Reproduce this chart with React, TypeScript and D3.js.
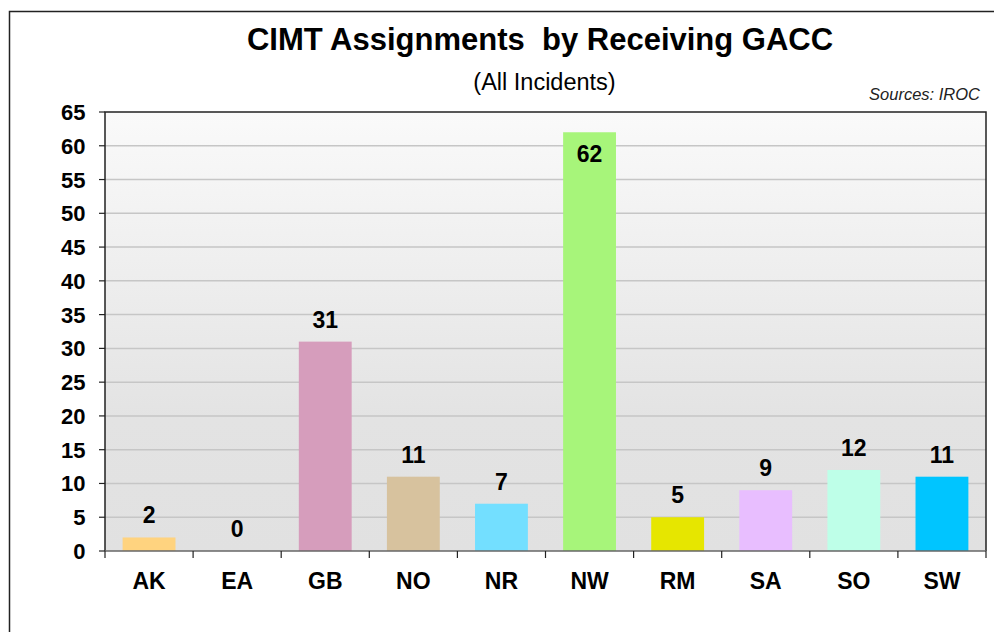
import React from 'react';
import * as d3 from 'd3';

// GACC codes and assignment counts
const gaccs = ['AK', 'EA', 'GB', 'NO', 'NR', 'NW', 'RM', 'SA', 'SO', 'SW'];
const assignments = [2, 0, 31, 11, 7, 62, 5, 9, 12, 11];
const barColors = ['#FFD37F', '#D69DBC', '#D69DBC', '#D7C29E', '#73DFFF', '#A7F57A', '#E6E600', '#E8BEFF', '#BEFFE8', '#00C5FF'];
const yTicks = [0, 5, 10, 15, 20, 25, 30, 35, 40, 45, 50, 55, 60, 65];

const title = 'CIMT Assignments\u00A0 by Receiving GACC';
const subtitle = '(All Incidents)';
const source = 'Sources: IROC';

const W = 994, H = 632;
const plot = { left: 105, right: 986, top: 112, bottom: 551 };
const font = '"Liberation Sans", Arial, sans-serif';

export default function App() {
  const x = d3.scaleBand<string>()
    .domain(gaccs)
    .range([plot.left, plot.right])
    .paddingInner(0.4)
    .paddingOuter(0.2);
  const y = d3.scaleLinear()
    .domain([0, 65])
    .range([plot.bottom, plot.top]);

  const step = x.step();
  const boundaries = d3.range(gaccs.length + 1).map(i => plot.left + i * step);

  return (
    <svg width={W} height={H} style={{ position: 'absolute', left: 0, top: 0 }}>
      <defs>
        <linearGradient id="bg" x1="0" y1="0" x2="0" y2="1">
          <stop offset="0" stopColor="#fafafa" />
          <stop offset="0.7" stopColor="#e3e3e3" />
          <stop offset="1" stopColor="#e1e1e1" />
        </linearGradient>
      </defs>
      <rect x={0} y={0} width={W} height={H} fill="#fff" />
      {/* outer frame: only top and left edges show */}
      <path d={`M9.5,${H} V11.5 H${W}`} fill="none" stroke="#222" strokeWidth={1.5} />

      <text x={540} y={50} textAnchor="middle" fontFamily={font} fontWeight="bold" fontSize={31}>{title}</text>
      <text x={544.5} y={90} textAnchor="middle" fontFamily={font} fontSize={23.5}>{subtitle}</text>
      <text x={980} y={100} textAnchor="end" fontFamily={font} fontStyle="italic" fontSize={16.5} fill="#222">{source}</text>

      <rect x={plot.left} y={plot.top} width={plot.right - plot.left} height={plot.bottom - plot.top} fill="url(#bg)" />

      {yTicks.filter(t => t > 0 && t < 65).map(t => (
        <line key={t} x1={plot.left} x2={plot.right} y1={y(t)} y2={y(t)} stroke="#c6c6c6" strokeWidth={1.5} />
      ))}

      {gaccs.map((g, i) => (
        <rect key={g} x={x(g)} y={y(assignments[i])} width={x.bandwidth()}
          height={plot.bottom - y(assignments[i])} fill={barColors[i]} />
      ))}

      {/* plot border */}
      <path d={`M${plot.left},${plot.bottom} V${plot.top} H${plot.right} V${plot.bottom}`} fill="none" stroke="#222" strokeWidth={1.5} />
      <line x1={plot.left} x2={plot.right} y1={plot.bottom} y2={plot.bottom} stroke="#666" strokeWidth={1.5} />

      {yTicks.map(t => (
        <g key={t}>
          <line x1={plot.left - 6} x2={plot.left} y1={y(t)} y2={y(t)} stroke="#222" strokeWidth={1.2} />
          <text x={85.5} y={y(t) + 8} textAnchor="end" fontFamily={font} fontWeight="bold" fontSize={22}>{t}</text>
        </g>
      ))}

      {boundaries.map((b, i) => (
        <line key={i} x1={b} x2={b} y1={plot.bottom} y2={plot.bottom + 7} stroke="#222" strokeWidth={1.2} />
      ))}

      {gaccs.map(g => (
        <text key={g} x={(x(g) as number) + x.bandwidth() / 2} y={589} textAnchor="middle"
          fontFamily={font} fontWeight="bold" fontSize={23}>{g}</text>
      ))}

      {gaccs.map((g, i) => {
        const top = y(assignments[i]);
        const inside = top - 14 - 17 < plot.top;
        return (
          <text key={g} x={(x(g) as number) + x.bandwidth() / 2} y={inside ? top + 29.5 : top - 14}
            textAnchor="middle" fontFamily={font} fontWeight="bold" fontSize={23}>{assignments[i]}</text>
        );
      })}
    </svg>
  );
}
